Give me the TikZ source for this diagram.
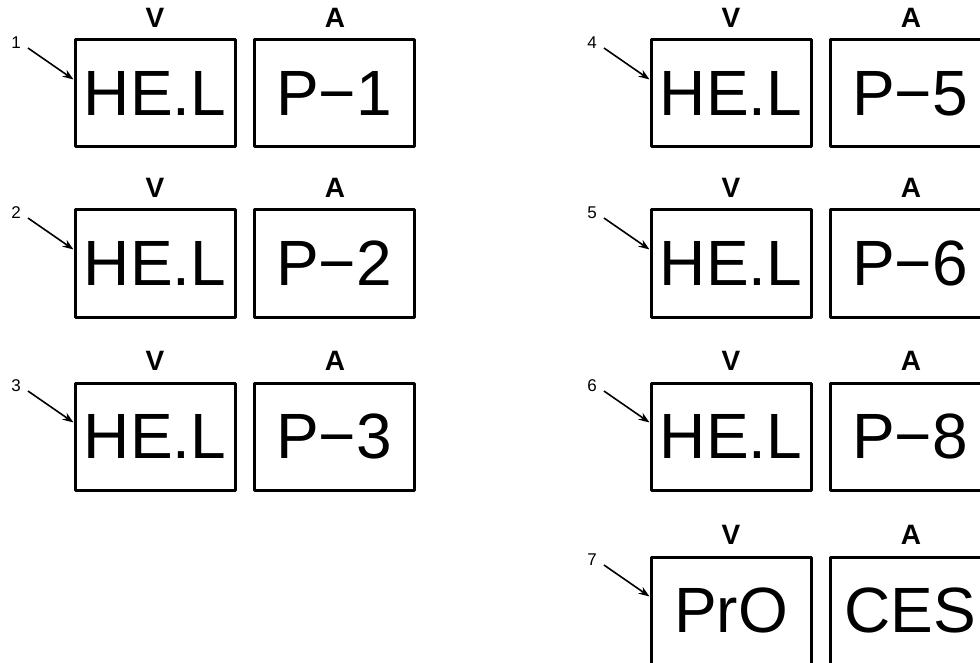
\documentclass[tikz,border=0pt]{standalone}
\usepackage{fontspec}
\setmainfont{Liberation Sans}
\usetikzlibrary{arrows.meta}
\begin{document}
\begin{tikzpicture}[x=1pt,y=-1pt,
  dispbox/.style={draw,line width=3pt,line join=round,minimum width=160pt,minimum height=107pt,inner sep=0pt,font=\fontsize{64}{70}\selectfont},
  toplabel/.style={inner sep=0pt,font=\fontsize{28}{30}\selectfont\bfseries},
  numlabel/.style={inner sep=0pt,font=\fontsize{17}{18}\selectfont},
  pointer/.style={line width=1.6pt,-{Stealth[length=11pt,width=8pt]}}]
\useasboundingbox (0,0) rectangle (980,663);
\clip (0,0) rectangle (980,663);
\foreach \x/\y/\n/\va/\aa in {75/40/1/HE.L/P−1, 75/210/2/HE.L/P−2, 75/383/3/HE.L/P−3,
  651/40/4/HE.L/P−5, 651/210/5/HE.L/P−6, 651/383/6/HE.L/P−8, 651/557/7/PrO/CES}{
  \node[dispbox] (v\n) at (\x+80,\y+53.5) {\va};
  \node[dispbox] (a\n) at (\x+259,\y+53.5) {\aa};
  \node[toplabel] (lv\n) at (\x+80,\y-22) {V};
  \node[toplabel] (la\n) at (\x+260,\y-22) {A};
  \node[numlabel] (n\n) at (\x-59,\y+3) {\n};
  \draw[pointer] ([shift={(7,5)}]n\n.east) -- ([shift={(0,-14)}]v\n.west);
}
\end{tikzpicture}
\end{document}
